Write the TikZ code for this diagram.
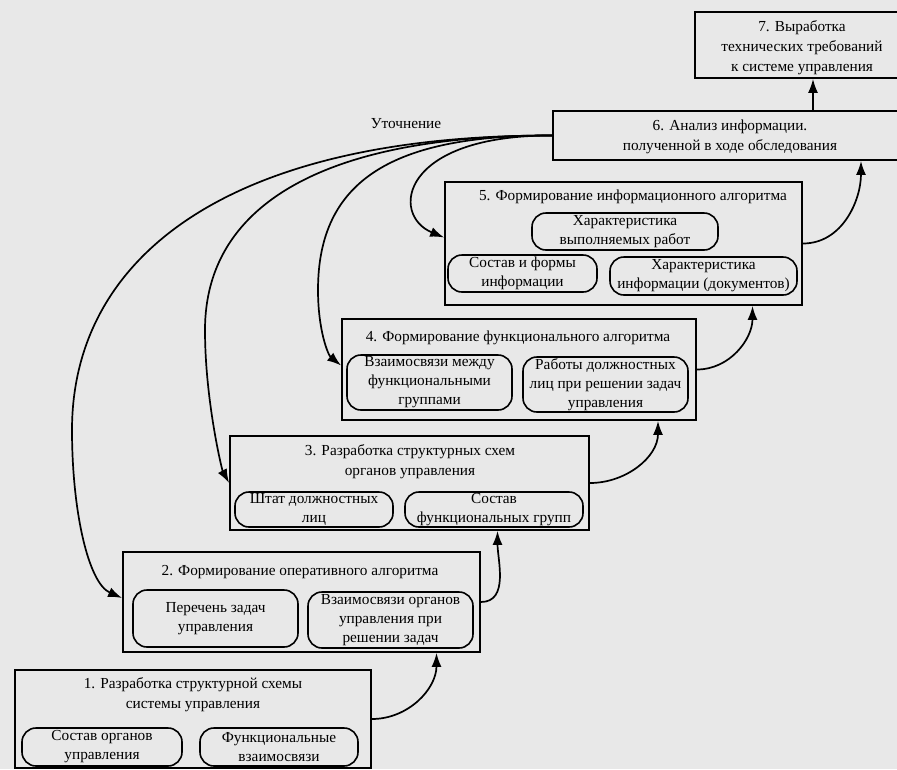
\documentclass[tikz,border=0pt]{standalone}
\usepackage{fontspec}
\setmainfont{Liberation Serif}
\usetikzlibrary{arrows.meta}

\definecolor{paper}{gray}{0.91}

\tikzset{
  stagebox/.style={draw, line width=1.8pt, inner sep=0pt},
  itembox/.style={draw, line width=1.6pt, rounded corners=14pt, inner sep=0pt,
    align=center, font=\fontsize{15.3}{19}\selectfont},
  heading/.style={align=center, inner sep=0pt, font=\fontsize{15.3}{20}\selectfont},
  flow/.style={->, line width=1.7pt}
}

\begin{document}
\begin{tikzpicture}[x=1pt, y=-1pt, >={Latex[length=14pt,width=10pt]}]

\clip (0,0) rectangle (897,769);
\fill [paper] (0,0) rectangle (897,769);

%outer frames of the seven stages
\foreach \n/\cx/\cy/\w/\h in {1/193/719/356/98, 2/301.5/602/357/100, 3/409.5/483/359/94,
	4/519/369.5/354/101, 5/623.5/243.5/357/123, 6/729/135.5/352/49, 7/800/45/210/66}
	\node [stagebox, minimum width=\w pt, minimum height=\h pt] (stage-\n) at (\cx,\cy) {};

%stage titles
\foreach \n/\tx/\ty/\txt in {
	1/193/695/{1. Разработка структурной схемы\\системы управления},
	2/300/572/{2. Формирование оперативного алгоритма},
	3/410/462/{3. Разработка структурных схем\\органов управления},
	4/518/338/{4. Формирование функционального алгоритма},
	5/633/197/{5. Формирование информационного алгоритма},
	6/730/137/{6. Анализ информации.\\полученной в ходе обследования},
	7/802/48/{7. Выработка\\технических требований\\к системе управления}}
	\node [heading] (title-\n) at (\tx,\ty) {\txt};

%rounded boxes inside the stages
\foreach \m/\ix/\iy/\w/\h/\txt in {
	1a/102/747/160/38/{Состав органов\\управления},
	1b/279/747/158/38/{Функциональные\\взаимосвязи},
	2a/215.5/618.5/165/57/{Перечень задач\\управления},
	2b/390.5/620/165/56/{Взаимосвязи органов\\управления при\\решении задач},
	3a/314/509.5/158/35/{Штат должностных\\лиц},
	3b/494/509.5/178/35/{Состав\\функциональных групп},
	4a/429.5/382.5/165/55/{Взаимосвязи между\\функциональными\\группами},
	4b/605.5/384.5/165/55/{Работы должностных\\лиц при решении задач\\управления},
	5a/625/231.5/186/37/{Характеристика\\выполняемых работ},
	5b/522.5/273.5/149/37/{Состав и формы\\информации},
	5c/703.5/276/187/38/{Характеристика\\информации (документов)}}
	\node [itembox, minimum width=\w pt, minimum height=\h pt] (item-\m) at (\ix,\iy) {\txt};

%drawing part
\foreach \i/\j/\s in {1/2/135, 2/3/88, 3/4/139, 4/5/129, 5/6/132}
	\draw [flow] (stage-\i.east) to[out=0, in=-90] ([xshift=\s pt]stage-\j.south);

\draw [flow] ([xshift=84pt]stage-6.north) -- ([xshift=84pt]stage-6.north |- stage-7.south);

%feedback curves
\node [heading] (refine) at (406,124) {Уточнение};
\draw [flow] (stage-6.west) .. controls (223,135) and (72,260) .. (72,430)
	.. controls (72,510) and (88,583) .. ([yshift=4pt]stage-2.west);
\draw [flow] (stage-6.west) .. controls (333,135) and (205,200) .. (205,330)
	.. controls (205,400) and (222,470) .. (stage-3.west);
\draw [flow] (stage-6.west) .. controls (393,135) and (318,180) .. (318,290)
	.. controls (318,330) and (328,355) .. ([yshift=4pt]stage-4.west);
\draw [flow] (stage-6.west) .. controls (400,135) and (390,215) .. ([yshift=6pt]stage-5.west);

\end{tikzpicture}
\end{document}
